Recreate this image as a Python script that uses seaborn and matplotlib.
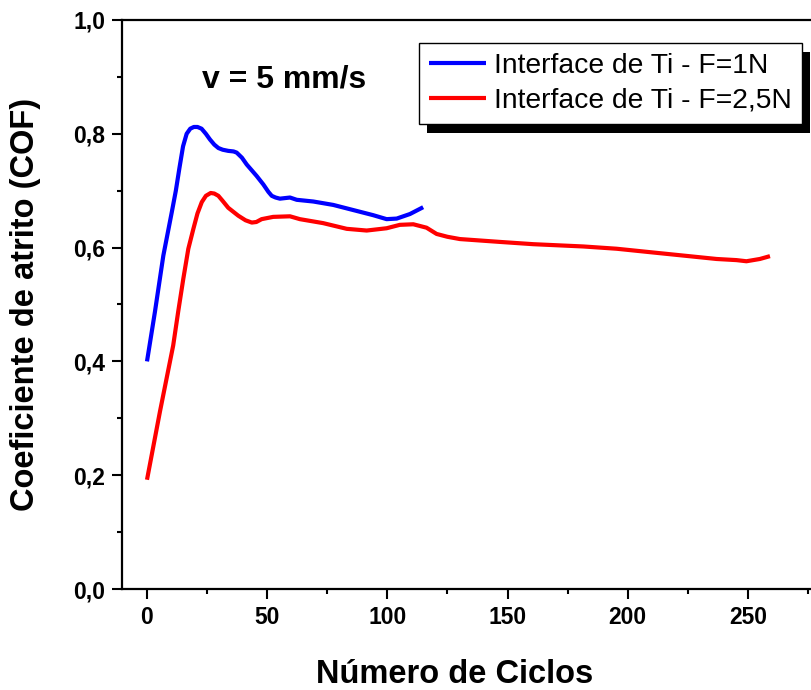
import matplotlib
matplotlib.use("Agg")
import matplotlib.pyplot as plt
from matplotlib.patches import Rectangle
from matplotlib.ticker import MultipleLocator, FixedLocator, FixedFormatter
import seaborn as sns
import pandas as pd

# ---- data ----
blue_x = [0, 3.3, 6.8, 10.3, 12, 13.5, 15, 16.5, 18, 19.5, 21, 22.7, 24.5, 26.2, 28, 29.7,
          31.5, 33.8, 36, 37.3, 39.5, 41.5, 45.6, 48.4, 50.5, 51.9, 53.5, 55.3, 59.5, 62.3,
          69.2, 77.5, 85.8, 94.1, 99.7, 103.9, 109.4, 114.9]
blue_y = [0.40, 0.487, 0.586, 0.662, 0.700, 0.740, 0.778, 0.800, 0.809, 0.812, 0.812, 0.809,
          0.800, 0.790, 0.781, 0.775, 0.772, 0.770, 0.769, 0.767, 0.758, 0.746, 0.726, 0.711,
          0.698, 0.691, 0.688, 0.686, 0.688, 0.684, 0.681, 0.675, 0.666, 0.657, 0.650, 0.651,
          0.659, 0.671]

red_x = [0, 5.4, 10.9, 13, 15.1, 17.2, 19.3, 21, 22.8, 24.5, 26.5, 28, 29.7, 31.5, 33.8, 38,
         41, 43.6, 45.5, 47.7, 52.5, 59.5, 63.6, 73.3, 83.1, 91.4, 99.7, 105.2, 110.8, 116.3,
         120.5, 125, 130.2, 146.8, 160.7, 181.5, 195.4, 209.2, 223.1, 237, 245.3, 249.4, 255,
         259.2]
red_y = [0.192, 0.312, 0.428, 0.488, 0.545, 0.598, 0.633, 0.660, 0.680, 0.691, 0.696, 0.695,
         0.691, 0.682, 0.670, 0.656, 0.648, 0.644, 0.645, 0.650, 0.654, 0.655, 0.650, 0.643,
         0.633, 0.630, 0.634, 0.640, 0.641, 0.635, 0.624, 0.619, 0.615, 0.610, 0.606, 0.602,
         0.598, 0.592, 0.586, 0.580, 0.578, 0.576, 0.580, 0.585]

series_labels = ["Interface de Ti - F=1N", "Interface de Ti - F=2,5N"]
x_ticks = [0, 50, 100, 150, 200, 250]
x_tick_labels = ["0", "50", "100", "150", "200", "250"]
y_ticks = [0.0, 0.2, 0.4, 0.6, 0.8, 1.0]
y_tick_labels = ["0,0", "0,2", "0,4", "0,6", "0,8", "1,0"]
x_title = "Número de Ciclos"
y_title = "Coeficiente de atrito (COF)"
annotation = "v = 5 mm/s"

# ---- style ----
sns.set_style("ticks")
plt.rcParams["font.family"] = ["Liberation Sans", "DejaVu Sans"]
plt.rcParams["text.color"] = "black"
plt.rcParams["axes.labelcolor"] = "black"
plt.rcParams["xtick.color"] = "black"
plt.rcParams["ytick.color"] = "black"
plt.rcParams["lines.solid_joinstyle"] = "round"
plt.rcParams["lines.solid_capstyle"] = "butt"

W, H = 811, 690
fig = plt.figure(figsize=(W / 100, H / 100), dpi=100)
ax_left, ax_top, ax_bottom = 122, 20, 589
ax_width_px = 697
ax = fig.add_axes([ax_left / W, (H - ax_bottom) / H, ax_width_px / W, (ax_bottom - ax_top) / H])

df_b = pd.DataFrame({"x": blue_x, "y": blue_y})
df_r = pd.DataFrame({"x": red_x, "y": red_y})
sns.lineplot(data=df_b, x="x", y="y", color="#0000FF", lw=3.0, sort=False, ax=ax,
             label=series_labels[0])
sns.lineplot(data=df_r, x="x", y="y", color="#FF0000", lw=3.0, sort=False, ax=ax,
             label=series_labels[1])

ax.set_xlim(-10.4, 279.6)
ax.set_ylim(0.0, 1.0)
ax.xaxis.set_major_locator(FixedLocator(x_ticks))
ax.xaxis.set_major_formatter(FixedFormatter(x_tick_labels))
ax.xaxis.set_minor_locator(MultipleLocator(25))
ax.yaxis.set_major_locator(FixedLocator(y_ticks))
ax.yaxis.set_major_formatter(FixedFormatter(y_tick_labels))
ax.yaxis.set_minor_locator(MultipleLocator(0.1))

ax.tick_params(which="major", direction="out", length=7, width=1.5, labelsize=16.5, pad=5,
               colors="black")
ax.tick_params(which="minor", direction="out", length=3.5, width=1.5, colors="black")
for lab in ax.get_xticklabels() + ax.get_yticklabels():
    lab.set_fontweight("bold")

for s in ["left", "bottom", "top"]:
    ax.spines[s].set_linewidth(1.6)
    ax.spines[s].set_color("black")
ax.spines["right"].set_visible(False)

ax.set_xlabel(x_title, fontsize=23.5, fontweight="bold", color="black")
ax.xaxis.set_label_coords((455 - ax_left) / ax_width_px, -(683 - ax_bottom) / (ax_bottom - ax_top))
ax.xaxis.label.set_verticalalignment("baseline")
ax.set_ylabel(y_title, fontsize=23.5, fontweight="bold", color="black")
ax.yaxis.set_label_coords((26 - ax_left) / ax_width_px, 0.5)
ax.yaxis.label.set_verticalalignment("center")

ax.text((202 - ax_left) / ax_width_px, (ax_bottom - 87) / (ax_bottom - ax_top), annotation,
        transform=ax.transAxes, fontsize=23, fontweight="bold", va="baseline", ha="left",
        color="black")

leg = ax.legend(loc="upper left", bbox_to_anchor=(419 / W, 1 - 43 / H),
                bbox_transform=fig.transFigure, fontsize=20.3, frameon=True, fancybox=False,
                framealpha=1, edgecolor="black", borderaxespad=0, borderpad=0.36,
                handlelength=2.0, handletextpad=0.3, labelspacing=0.3)
leg.get_frame().set_linewidth(1.0)
for t in leg.get_texts():
    t.set_color("black")
for line in leg.get_lines():
    line.set_linewidth(3)

fig.canvas.draw()
bb = leg.get_frame().get_window_extent()
shadow = Rectangle((bb.x0 + 8, bb.y0 - 9), bb.width, bb.height, transform=None,
                   facecolor="black", edgecolor="none", zorder=4.9, clip_on=False)
ax.add_patch(shadow)

fig.savefig("out.png", dpi=100)
